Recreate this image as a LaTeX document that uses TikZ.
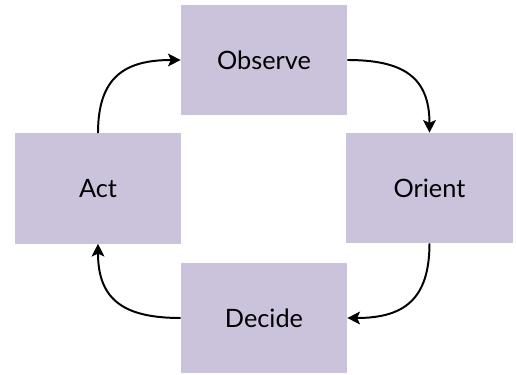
\documentclass[tikz,border=0pt]{standalone}
\usepackage{fontspec}
\setmainfont{Lato}
\usepackage{xcolor}
\usetikzlibrary{arrows.meta}

\definecolor{boxfill}{RGB}{203,195,219}

\begin{document}
\begin{tikzpicture}[x=0.025cm,y=-0.025cm,
    stage/.style={rectangle,fill=boxfill,inner sep=0pt,
        minimum width=4.15cm,minimum height=2.75cm,font=\fontsize{18}{20}\selectfont},
    flow/.style={-{Stealth[length=9pt,width=9pt,inset=2pt]},line width=1.4pt,looseness=1.3}]
                \useasboundingbox (0,0) rectangle (516,375);

                \node[stage] (observe) at (264,60)    {Observe};
                \node[stage] (orient)  at (429.5,188) {Orient};
                \node[stage] (decide)  at (264,318)   {Decide};
                \node[stage] (act)     at (98,188.5)  {Act};

                \draw[flow] (observe.east) to[out=0,in=90] (orient.north);
                \draw[flow] (orient.south) to[out=270,in=0] (decide.east);
                \draw[flow] (decide.west) to[out=180,in=270] (act.south);
                \draw[flow] (act.north) to[out=90,in=180] (observe.west);
            \end{tikzpicture}
\end{document}
